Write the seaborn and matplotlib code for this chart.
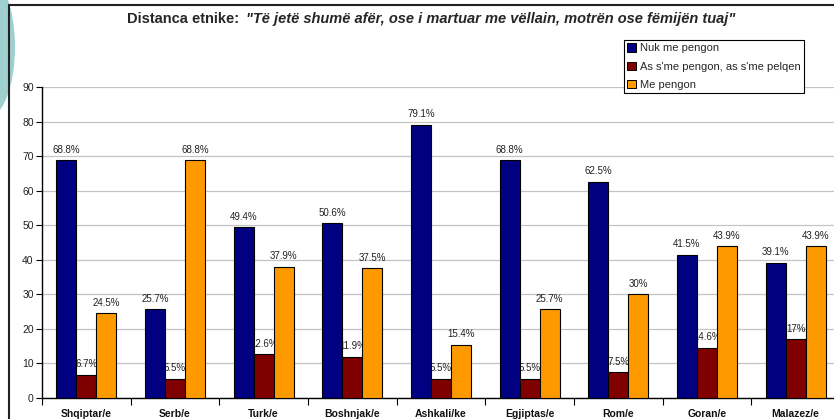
import matplotlib
matplotlib.use("Agg")
import matplotlib.pyplot as plt
from matplotlib.patches import Patch, Ellipse
from matplotlib.lines import Line2D
import seaborn as sns
import pandas as pd

groups = ["Shqiptar/e", "Serb/e", "Turk/e", "Boshnjak/e", "Ashkali/ke",
          "Egjiptas/e", "Rom/e", "Goran/e", "Malazez/e"]
series = ["Nuk me pengon", "As s'me pengon, as s'me pelqen", "Me pengon"]
nuk_me_pengon = [68.8, 25.7, 49.4, 50.6, 79.1, 68.8, 62.5, 41.5, 39.1]
as_as = [6.7, 5.5, 12.6, 11.9, 5.5, 5.5, 7.5, 14.6, 17]
me_pengon = [24.5, 68.8, 37.9, 37.5, 15.4, 25.7, 30, 43.9, 43.9]
colors = ["#000080", "#800000", "#FF9900"]

df = pd.DataFrame({
    "grupi": groups * 3,
    "seria": [s for s in series for _ in groups],
    "vlera": nuk_me_pengon + as_as + me_pengon,
})

sns.set_style("white")
plt.rcParams["font.family"] = ["Liberation Sans", "DejaVu Sans"]

W, H = 834, 419
fig = plt.figure(figsize=(W / 100, H / 100), dpi=100)

# decorative teal shape and page frame
fig.add_artist(Ellipse((-13 / W, 1 - 47 / H), 56 / W, 142 / H,
                       transform=fig.transFigure, facecolor="#9fcfcf",
                       edgecolor="none", zorder=0))
fig.add_artist(Line2D([8.5 / W, 1], [1 - 5.5 / H, 1 - 5.5 / H],
                      transform=fig.transFigure, color="#222222", lw=1.5))
fig.add_artist(Line2D([8.5 / W, 8.5 / W], [1 - 5.5 / H, 0],
                      transform=fig.transFigure, color="#222222", lw=1.5))

ax = fig.add_axes([42 / W, 21 / H, 798 / W, 311 / H])
sns.barplot(data=df, x="grupi", y="vlera", hue="seria", palette=colors,
            width=0.675, gap=0, edgecolor="black", linewidth=0.8,
            saturation=1, legend=False, ax=ax, zorder=3)

for cont in ax.containers:
    labels = ax.bar_label(cont, labels=[f"{v:g}%" for v in cont.datavalues],
                          padding=4, fontsize=7, color="#222222")
    for t in labels:
        t.set_zorder(2)

ax.set_ylim(0, 90)
ax.set_xlim(-0.5, 8.5)
ax.set_yticks(range(0, 91, 10))
ax.set_xlabel("")
ax.set_ylabel("")
ax.set_axisbelow(True)
ax.yaxis.grid(True, color="#c4c4c4", lw=0.9)
ax.xaxis.grid(False)
for side in ["top", "right"]:
    ax.spines[side].set_visible(False)
for side in ["left", "bottom"]:
    ax.spines[side].set_color("black")
    ax.spines[side].set_linewidth(1.0)
ax.tick_params(axis="y", length=4, width=0.8, color="black", labelsize=7.5,
               labelcolor="#222222", pad=2, left=True)
ax.set_xticks(range(len(groups)))
ax.set_xticklabels(groups, fontsize=7.5, fontweight="bold", color="#111111")
ax.set_xticks([i - 0.5 for i in range(len(groups) + 1)], minor=True)
ax.tick_params(axis="x", which="major", length=0, pad=8)
ax.tick_params(axis="x", which="minor", length=5, width=0.8, color="black",
               bottom=True)

# two-part title: bold lead, bold italic quote
ty = 1 - 19 / H
t1 = fig.text(0, ty, "Distanca etnike:", fontsize=10.5, fontweight="bold",
              va="center", ha="left")
t2 = fig.text(0, ty, "\"Të jetë shumë afër, ose i martuar me vëllain, motrën ose fëmijën tuaj\"",
              fontsize=10.5, fontweight="bold", fontstyle="italic",
              va="center", ha="left")
fig.canvas.draw()
r = fig.canvas.get_renderer()
w1 = t1.get_window_extent(r).width
w2 = t2.get_window_extent(r).width
gap = 7
x0 = 431 - (w1 + gap + w2) / 2
t1.set_x(x0 / W)
t2.set_x((x0 + w1 + gap) / W)

handles = [Patch(facecolor=c, edgecolor="black", linewidth=0.7) for c in colors]
leg = fig.legend(handles, series, loc="upper left",
                 bbox_to_anchor=(624 / W, 1 - 40 / H), fontsize=8,
                 frameon=True, fancybox=False, framealpha=1,
                 edgecolor="black", handlelength=0.75, handleheight=0.75,
                 handletextpad=0.35, labelspacing=0.75, borderpad=0.3,
                 borderaxespad=0)
leg.get_frame().set_linewidth(0.8)

fig.savefig("out.png", dpi=100)
